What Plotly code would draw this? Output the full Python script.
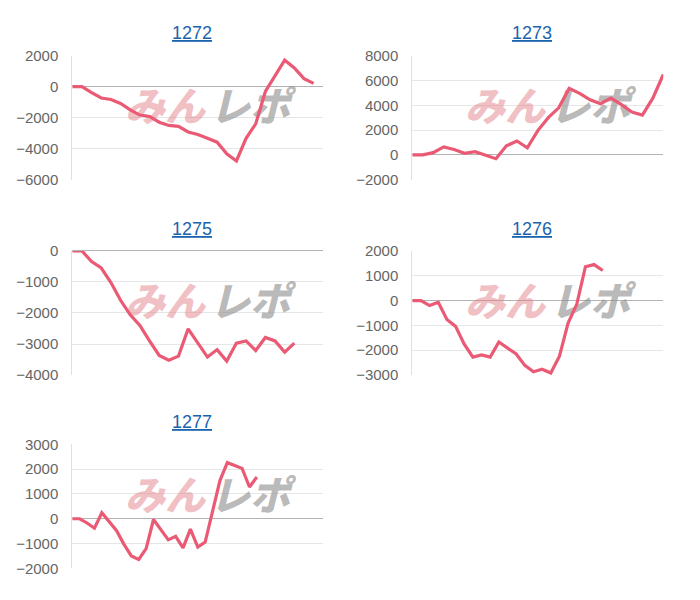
import plotly.graph_objects as go

# ---- data ----
titles = ["1272", "1273", "1275", "1276", "1277"]
slots = [27, 25, 27, 30, 35]          # number of x categories per chart
d1272 = [0, 0, -380, -730, -830, -1080, -1500, -1830, -1920, -2290, -2500, -2560, -2920,
         -3080, -3330, -3580, -4330, -4790, -3330, -2400, -310, 670, 1710, 1210, 520, 210]
d1273 = [0, 0, 180, 650, 440, 130, 260, -50, -310, 730, 1120, 570, 1960, 3000, 3790,
         5360, 4960, 4440, 4130, 4570, 4050, 3450, 3210, 4570, 6480]
d1275 = [0, 0, -345, -550, -1020, -1590, -2060, -2400, -2900, -3370, -3520, -3390, -2510,
         -2950, -3420, -3180, -3550, -2970, -2900, -3210, -2790, -2900, -3260, -2970]
d1276 = [0, 0, -200, -70, -760, -1040, -1760, -2280, -2190, -2280, -1670, -1930, -2150,
         -2610, -2870, -2770, -2920, -2240, -910, -150, 1360, 1450, 1210]
d1277 = [0, 0, -170, -380, 240, -120, -480, -1030, -1500, -1640, -1200, -30, -420, -850,
         -710, -1170, -420, -1140, -940, 250, 1540, 2260, 2130, 2030, 1280, 1680]
series = [d1272, d1273, d1275, d1276, d1277]
y_ranges = [[-6000, 2000], [-2000, 8000], [-4000, 0], [-3000, 2000], [-2000, 3000]]
y_steps = [2000, 2000, 1000, 1000, 1000]

# ---- layout geometry (pixels) ----
W, H = 700, 600
col_x0 = [72.3, 412.3]
plot_w = 251.0
row_y0 = [48.0, 249.0, 448.0]
plot_h = 127.7
positions = [(0, 0), (1, 0), (0, 1), (1, 1), (0, 2)]

LINE = "#ea5a74"
fig = go.Figure()
layout = dict(width=W, height=H, autosize=False,
              margin=dict(l=0, r=0, t=0, b=0),
              paper_bgcolor="white", plot_bgcolor="white",
              showlegend=False, annotations=[])

for k, (title, data, n, yr, step, (c, r)) in enumerate(
        zip(titles, series, slots, y_ranges, y_steps, positions)):
    i = k + 1
    xa = "xaxis" if i == 1 else f"xaxis{i}"
    ya = "yaxis" if i == 1 else f"yaxis{i}"
    xref = "x" if i == 1 else f"x{i}"
    yref = "y" if i == 1 else f"y{i}"
    x0 = col_x0[c]
    y0 = row_y0[r]
    layout[xa] = dict(domain=[x0 / W, (x0 + plot_w) / W], range=[0, n - 1],
                      anchor=yref, showgrid=False, zeroline=False,
                      showticklabels=False, ticks="", showline=False,
                      fixedrange=True)
    layout[ya] = dict(domain=[1 - (y0 + plot_h) / H, 1 - y0 / H], range=yr,
                      anchor=xref, dtick=step, tick0=0,
                      showgrid=True, gridcolor="#e6e6e6", gridwidth=1,
                      zeroline=True, zerolinecolor="#b3b3b3", zerolinewidth=1,
                      showline=True, linecolor="#e0e0e0", linewidth=1,
                      ticks="outside", ticklen=10, tickcolor="rgba(0,0,0,0)",
                      tickfont=dict(family="Liberation Sans, Arial", size=15, color="#666666"),
                      fixedrange=True)
    # watermark (drawn under the line)
    wx1 = (n - 1) * (92.7 / plot_w)
    wx2 = (n - 1) * (177.7 / plot_w)
    wy = yr[1] - (yr[1] - yr[0]) * (57.0 / plot_h)
    fig.add_trace(go.Scatter(x=[wx1], y=[wy], mode="text", text=["みん"],
                             textfont=dict(family="Noto Sans CJK JP", size=40,
                                           color="rgba(226,130,138,0.5)",
                                           weight=900, style="italic"),
                             xaxis=xref, yaxis=yref, hoverinfo="skip"))
    fig.add_trace(go.Scatter(x=[wx2], y=[wy], mode="text", text=["レポ"],
                             textfont=dict(family="Noto Sans CJK JP", size=40,
                                           color="rgba(140,140,140,0.6)",
                                           weight=900, style="italic"),
                             xaxis=xref, yaxis=yref, hoverinfo="skip"))
    fig.add_trace(go.Scatter(x=list(range(len(data))), y=data, mode="lines",
                             line=dict(color=LINE, width=3.2),
                             xaxis=xref, yaxis=yref, hoverinfo="skip"))
    # title
    layout["annotations"].append(dict(
        text=f"<u>{title}</u>", xref="paper", yref="paper",
        x=(192 + 340 * c) / W, y=1 - (y0 - 23) / H,
        xanchor="center", yanchor="middle", showarrow=False,
        font=dict(family="Liberation Sans, Arial", size=18, color="#1a64ad")))

fig.update_layout(**layout)
fig.write_html("out.html",
               config={"displayModeBar": False, "staticPlot": True},
               post_script="document.body.style.margin='0';"
                           "document.body.style.overflow='hidden';"
                           "document.documentElement.style.overflow='hidden';"
                           "var d=document.getElementById('{plot_id}');"
                           "d.style.position='fixed';d.style.top='0px';d.style.left='0px';")
